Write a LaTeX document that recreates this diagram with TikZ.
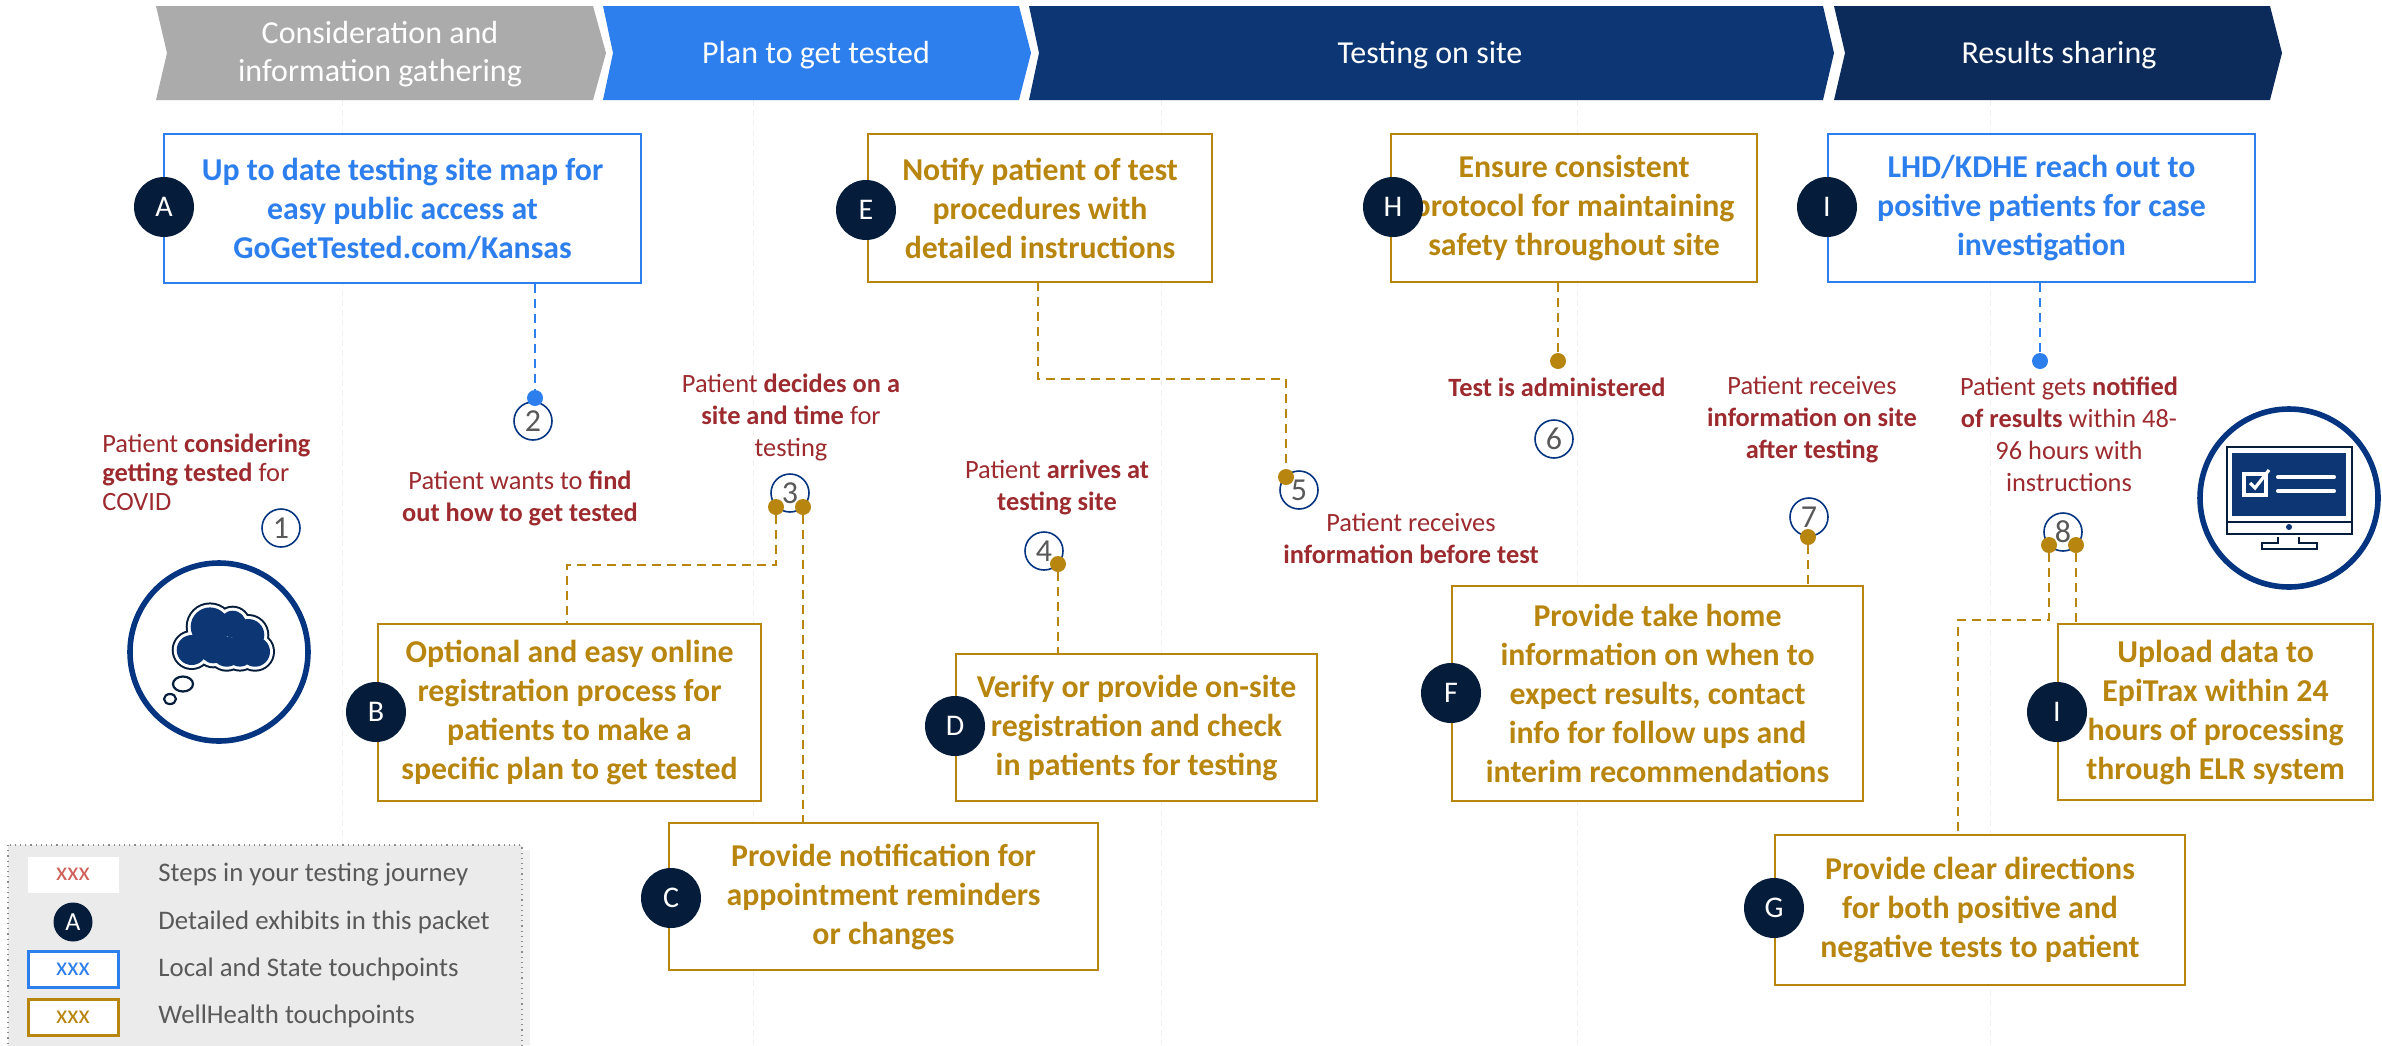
\documentclass[tikz,border=0pt]{standalone}
\usepackage{fontspec}
\setmainfont{Carlito}
\usetikzlibrary{calc}
\definecolor{cgray}{HTML}{ABABAB}
\definecolor{cblue}{HTML}{2E7FEE}
\definecolor{cdark}{HTML}{0D3674}
\definecolor{cnavy}{HTML}{0C2B5A}
\definecolor{cink}{HTML}{051C3A}
\definecolor{cgold}{HTML}{B8860F}
\definecolor{cred}{HTML}{9C2A2E}
\definecolor{cring}{HTML}{053480}
\definecolor{ctext}{HTML}{595959}
\definecolor{cfill}{HTML}{0D3674}
\definecolor{csalmon}{HTML}{D0605A}
\definecolor{clegend}{HTML}{EBEBEB}
\tikzset{
  x=0.5pt,y=-0.5pt,
  chevtext/.style={text=white,font=\fontsize{16}{19}\selectfont,align=center,inner sep=0pt},
  tbox/.style={draw,line width=1.05pt,fill=white,inner sep=0pt,align=center,font=\fontsize{15.9}{19.5}\selectfont\bfseries},
  bluebox/.style={tbox,draw=cblue,text=cblue},
  goldbox/.style={tbox,draw=cgold,text=cgold},
  badge/.style={circle,fill=cink,text=white,minimum size=30pt,inner sep=0pt,font=\fontsize{15}{15}\selectfont},
  num/.style={circle,draw=cring,line width=0.8pt,fill=white,minimum size=19pt,inner sep=0pt,text=ctext,font=\fontsize{16}{16}\selectfont},
  lab/.style={text=cred,align=center,inner sep=0pt,font=\fontsize{13.2}{16}\selectfont},
  golddash/.style={draw=cgold,line width=1.2pt,dash pattern=on 4.5pt off 3pt},
  bluedash/.style={draw=cblue,line width=1.2pt,dash pattern=on 4.5pt off 3pt},
  golddot/.style={circle,fill=cgold,minimum size=8pt,inner sep=0pt},
  bluedot/.style={circle,fill=cblue,minimum size=8pt,inner sep=0pt},
  ring/.style={circle,draw=cring,line width=2.8pt,fill=white,minimum size=89pt,inner sep=0pt},
  grid/.style={draw=black!6,line width=0.4pt,dash pattern=on 3pt off 2pt},
  legtext/.style={anchor=west,text=ctext,inner sep=0pt,font=\fontsize{13.4}{16}\selectfont},
  legbox/.style={line width=1.5pt,fill=white,minimum width=45pt,minimum height=18pt,inner sep=0pt,font=\fontsize{13}{15}\selectfont},
}
\newcommand{\pbox}[6]{\node[#1,minimum width=#4*0.5pt,minimum height=#5*0.5pt,anchor=north west] (#2) at (#3) {#6};}
\newcommand{\cloudlayer}[2]{\fill[#1] \foreach \cx/\cy/\cr in {191.7/650/15,210/626.7/19.3,232.7/624/13.3,248.3/635/16,255/651.7/15,226.7/651.7/15,213.3/650/13.3,240/653.3/13.3}{(\cx,\cy) circle [radius=\cr+#2]};}
\begin{document}
\begin{tikzpicture}
\useasboundingbox (0,0) rectangle (2382,1045);
% faint grid
\foreach \gx in {342,753,1161,1577,1990}{\draw[grid] (\gx,100) -- (\gx,1045);}
% chevrons
\fill[cgray] (156,6) -- (593,6) -- (606,53) -- (593,100) -- (156,100) -- (167,53) -- cycle;
\fill[cblue] (603,6) -- (1019,6) -- (1031,53) -- (1019,100) -- (603,100) -- (613,53) -- cycle;
\fill[cdark] (1029,6) -- (1823,6) -- (1834,53) -- (1823,100) -- (1029,100) -- (1039,53) -- cycle;
\fill[cnavy] (1834,6) -- (2270,6) -- (2282,53) -- (2270,100) -- (1834,100) -- (1845,53) -- cycle;
\node[chevtext] (s1) at (380,54) {Consideration and\\information gathering};
\node[chevtext] (s2) at (816,55) {Plan to get tested};
\node[chevtext] (s3) at (1430,55) {Testing on site};
\node[chevtext] (s4) at (2059,55) {Results sharing};
% boxes
\pbox{bluebox}{bA}{163,133}{477}{149}{Up to date testing site map for\\easy public access at\\GoGetTested.com/Kansas}
\pbox{goldbox}{bE}{867,133}{344}{148}{Notify patient of test\\procedures with\\detailed instructions}
\pbox{goldbox}{bH}{1390,133}{366}{148}{Ensure consistent\\protocol for maintaining\\safety throughout site}
\pbox{bluebox}{bI}{1827,133}{427}{148}{LHD/KDHE reach out to\\positive patients for case\\investigation}
\pbox{goldbox}{bB}{377,623}{383}{177}{Optional and easy online\\registration process for\\patients to make a\\specific plan to get tested}
\pbox{goldbox}{bC}{668,822}{429}{147}{Provide notification for\\appointment reminders\\or changes}
\pbox{goldbox}{bD}{955,653}{361}{147}{Verify or provide on-site\\registration and check\\in patients for testing}
\pbox{goldbox}{bF}{1451,585}{411}{215}{Provide take home\\information on when to\\expect results, contact\\info for follow ups and\\interim recommendations}
\pbox{goldbox}{bG}{1774,834}{410}{150}{Provide clear directions\\for both positive and\\negative tests to patient}
\pbox{goldbox}{bJ}{2057,623}{315}{176}{Upload data to\\EpiTrax within 24\\hours of processing\\through ELR system}
% number circles
\node[num] (n1) at (281,528) {1};
\node[num] (n2) at (533,421) {2};
\node[num] (n3) at (790,493) {3};
\node[num] (n4) at (1044,551) {4};
\node[num] (n5) at (1299,490) {5};
\node[num] (n6) at (1554,439) {6};
\node[num] (n7) at (1809,517) {7};
\node[num] (n8) at (2063,532) {8};
% dots
\node[bluedot] (dA) at (535,398) {};
\node[golddot] (d3a) at (776,507) {};
\node[golddot] (d3b) at (803,507) {};
\node[golddot] (d4) at (1058,564) {};
\node[golddot] (d5) at (1286,477) {};
\node[golddot] (d6) at (1558,361) {};
\node[golddot] (d7) at (1808,537) {};
\node[bluedot] (dI) at (2040,361) {};
\node[golddot] (d8a) at (2049,545) {};
\node[golddot] (d8b) at (2076,545) {};
% connectors
\draw[bluedash] (bA.south -| dA) -- (dA);
\draw[golddash] (d3a) -- (776,565) -- (567,565) -- (567,623);
\draw[golddash] (d3b) -- (d3b |- bC.north);
\draw[golddash] (d4) -- (d4 |- bD.north);
\draw[golddash] (1038,282) -- (1038,379) -- (1286,379) -- (d5);
\draw[golddash] (d6 |- bH.south) -- (d6);
\draw[golddash] (d7) -- (d7 |- bF.north);
\draw[bluedash] (dI |- bI.south) -- (dI);
\draw[golddash] (d8a) -- (2049,620) -- (1958,620) -- (1958,834);
\draw[golddash] (d8b) -- (d8b |- bJ.north);
% badges
\node[badge] (cA) at (164,207) {A};
\node[badge] (cE) at (866,210) {E};
\node[badge] (cH) at (1393,207) {H};
\node[badge] (cI) at (1827,207) {I};
\node[badge] (cB) at (376,712) {B};
\node[badge] (cC) at (671,898) {C};
\node[badge] (cD) at (955,726) {D};
\node[badge] (cF) at (1451,693) {F};
\node[badge] (cG) at (1774,908) {G};
\node[badge] (cJ) at (2057,712) {I};
% labels
\node[lab,align=left,anchor=west,font=\fontsize{13.2}{14.5}\selectfont] (l1) at (102,472) {Patient \textbf{considering}\\\textbf{getting tested} for\\COVID};
\node[lab] (l2) at (520,498) {Patient wants to \textbf{find}\\\textbf{out how to get tested}};
\node[lab] (l3) at (791,417) {Patient \textbf{decides on a}\\\textbf{site and time} for\\testing};
\node[lab] (l4) at (1057,487) {Patient \textbf{arrives at}\\\textbf{testing site}};
\node[lab] (l5) at (1411,538) {Patient receives\\\textbf{information before test}};
\node[lab] (l6) at (1557,387) {\textbf{Test is administered}};
\node[lab] (l7) at (1812,420) {Patient receives\\\textbf{information on site}\\\textbf{after testing}};
\node[lab] (l8) at (2069,434) {Patient gets \textbf{notified}\\\textbf{of results} within 48-\\96 hours with\\instructions};
% cloud icon
\node[ring] (r1) at (219,652) {};
\cloudlayer{cink}{5}
\cloudlayer{white}{3}
\cloudlayer{cfill}{0}
\draw[cink,line width=1.1pt] (183,684) ellipse [x radius=10,y radius=7.5];
\draw[cink,line width=1.1pt] (170,699) ellipse [x radius=6,y radius=5];
% monitor icon
\node[ring] (r2) at (2289,498) {};
\draw[cink,line width=1.2pt,fill=white] (2227,447) rectangle (2352,534);
\fill[cfill] (2232,453) rectangle (2346,516);
\draw[cink,line width=1.2pt] (2227,522) -- (2352,522);
\fill[cfill] (2289,527) circle [radius=3];
\draw[cink,line width=1.2pt] (2278,537) -- (2278,543) -- (2262,543) -- (2262,549) -- (2317,549) -- (2317,543) -- (2299,543) -- (2299,537);
\draw[white,line width=1.8pt,fill=cfill] (2244,474) rectangle (2266,495);
\draw[white,line width=1.6pt] (2250,483) -- (2255,488) -- (2269,470);
\draw[white,line width=2pt,line cap=round] (2278,477) -- (2334,477);
\draw[white,line width=2pt,line cap=round] (2278,491) -- (2334,491);
% legend
\fill[black!6] (13,850) rectangle (530,1045);
\draw[black!45,fill=clegend,line width=0.6pt,dotted] (8,845) rectangle (522,1050);
\fill[white] (28,857) rectangle (119,893);
\node[text=csalmon,inner sep=0pt,font=\fontsize{13}{15}\selectfont] (k1) at (73,874) {xxx};
\node[circle,fill=cink,text=white,minimum size=19.5pt,inner sep=0pt,font=\fontsize{13}{13}\selectfont] (k2) at (73,922) {A};
\node[legbox,draw=cblue,text=cblue] (k3) at (73,969.5) {xxx};
\node[legbox,draw=cgold,text=cgold] (k4) at (73,1017) {xxx};
\node[legtext] (t1) at (158,875) {Steps in your testing journey};
\node[legtext] (t2) at (158,922) {Detailed exhibits in this packet};
\node[legtext] (t3) at (158,969) {Local and State touchpoints};
\node[legtext] (t4) at (158,1016) {WellHealth touchpoints};
\end{tikzpicture}
\end{document}
